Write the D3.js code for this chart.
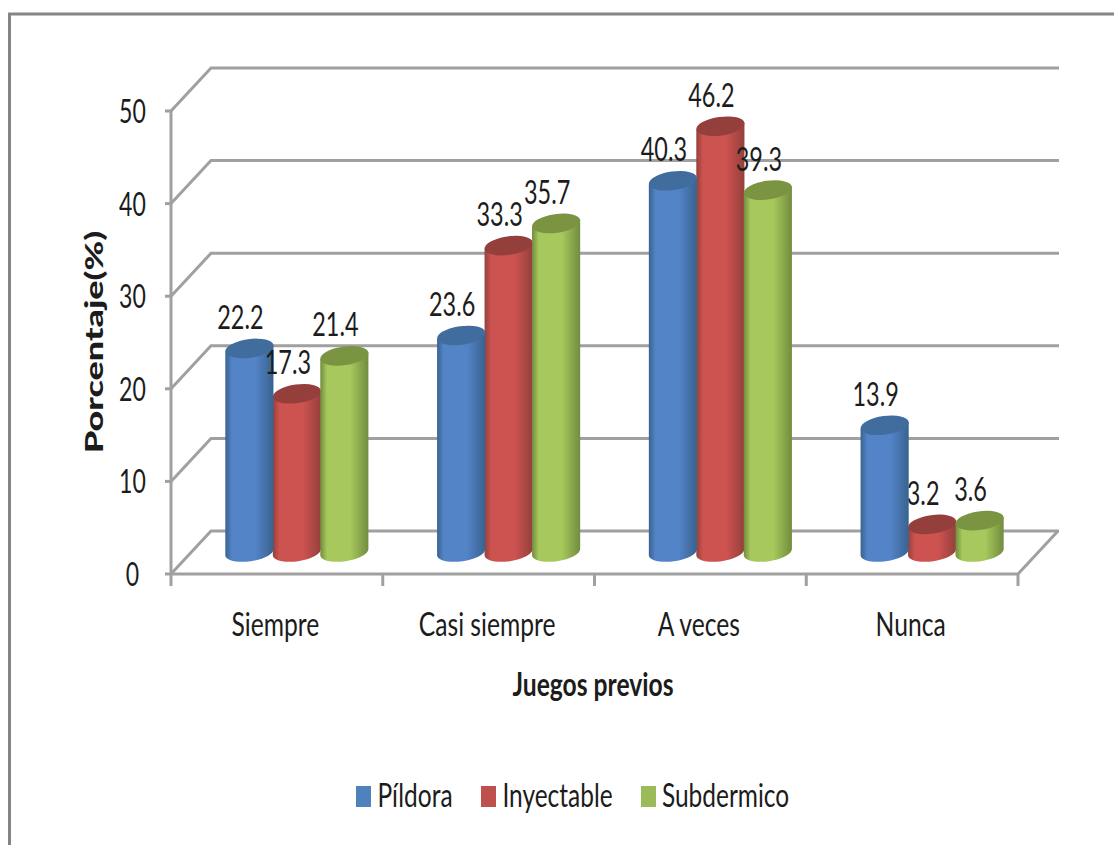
<!DOCTYPE html>
<html>
<head>
<meta charset="utf-8">
<script src="https://cdn.jsdelivr.net/npm/d3@7/dist/d3.min.js"></script>
<style>
  html, body { margin: 0; padding: 0; background: #fff; overflow: hidden; }
  svg { display: block; }
  text { font-family: Lato, "Open Sans", sans-serif; fill: #1c1c1c; }
</style>
</head>
<body>
<div id="chart"></div>
<script>
const categories = ["Siempre", "Casi siempre", "A veces", "Nunca"];
const seriesNames = ["Píldora", "Inyectable", "Subdermico"];
const pildora = [22.2, 23.6, 40.3, 13.9];
const inyectable = [17.3, 33.3, 46.2, 3.2];
const subdermico = [21.4, 35.7, 39.3, 3.6];
const yTicks = [0, 10, 20, 30, 40, 50];
const seriesValues = [pildora, inyectable, subdermico];

const width = 1114, height = 845;
const depthX = 40, depthY = -43;          // offset of the back wall from the front axes
const midX = 20, midY = -20;              // cylinders stand halfway into the floor
const baseLift = 2;                       // the cylinder feet rest slightly behind the mid plane
const ellipseRx = 24.3, ellipseRy = 9.3, ellipseTilt = -8;

const palette = [
  { edge: "#39628f", mid: "#5384c8", top: "#416d9e", key: "#4f81bd" },
  { edge: "#94403c", mid: "#cd5350", top: "#943f3c", key: "#c0504d" },
  { edge: "#728c3e", mid: "#a6c85c", top: "#7a9442", key: "#9bbb59" }
];

const svg = d3.select("#chart").append("svg").attr("width", width).attr("height", height);
const defs = svg.append("defs");

palette.forEach((c, i) => {
  const g = defs.append("linearGradient").attr("id", "cyl" + i).attr("x1", 0).attr("x2", 1).attr("y1", 0).attr("y2", 0);
  [[0, c.edge], [0.14, c.mid], [0.62, c.mid], [1, c.edge]].forEach(([o, col]) =>
    g.append("stop").attr("offset", o).attr("stop-color", col));
});

const x = d3.scaleBand().domain(categories).range([171, 1018]);
const xInner = d3.scaleBand().domain(seriesNames).range([0, x.bandwidth()]).paddingOuter(0.73).paddingInner(0);
const y = d3.scaleLinear().domain([0, 50]).range([574, 111]);

// Chart frame: only the top and left edges fall inside the window
svg.append("path").attr("d", `M9.5,845V14H1114`).attr("fill", "none").attr("stroke", "#858585").attr("stroke-width", 3);

const gridColor = "#a0a0a0";
const grid = svg.append("g").attr("fill", "none").attr("stroke", gridColor).attr("stroke-width", 3);

// Gridlines run up the left side wall and across the back wall
grid.selectAll("path.wall").data(yTicks).join("path").attr("class", "wall")
  .attr("d", t => `M${x.range()[0]},${y(t)}L${x.range()[0] + depthX},${y(t) + depthY}H${x.range()[1] + depthX + 1}`);

// Floor edges
grid.append("path").attr("d",
  `M${x.range()[0]},${y(0)}H${x.range()[1]}L${x.range()[1] + depthX},${y(0) + depthY}`);

// Value axis line and ticks
grid.append("path").attr("d", `M${x.range()[0]},${y(50)}V${y(0)}`);
grid.selectAll("path.ytick").data(yTicks).join("path").attr("class", "ytick")
  .attr("d", t => `M${x.range()[0] - 6},${y(t)}H${x.range()[0]}`);

// Category ticks sit on the band boundaries
const xBoundaries = categories.map(c => x(c)).concat(x.range()[1]);
grid.selectAll("path.xtick").data(xBoundaries).join("path").attr("class", "xtick")
  .attr("d", d => `M${d},${y(0)}v12`);

// Text helper: the chart's lettering is condensed, so each label carries its own horizontal scale
function label(parent, str, px, py, size, sx, weight) {
  return parent.append("text")
    .attr("transform", `translate(${px},${py}) scale(${sx},1)`)
    .attr("text-anchor", "middle")
    .attr("font-size", size)
    .attr("font-weight", weight || 400)
    .text(str);
}

const labels = svg.append("g");
yTicks.forEach(t => label(labels, String(t), 132.5, y(t) + 12, 33, 0.7));
categories.forEach(c => label(labels, c, x(c) + x.bandwidth() / 2 - 1.5, 636, 32, 0.77));
label(labels, "Juegos previos", 593, 696, 32, 0.77, 700);

// Vertical axis title, stretched along its length
labels.append("text")
  .attr("transform", "translate(103,342) rotate(-90) scale(1.5,1)")
  .attr("text-anchor", "middle").attr("font-size", 24).attr("font-weight", 900)
  .text("Porcentaje(%)");

// Cylinder outline: straight sides closed by the lower half of a tilted ellipse, built from two cubics
function cylinderPath(cx, topY, base) {
  const t = ellipseTilt * Math.PI / 180, k = 0.5523;
  const pt = (a, b) => {
    const px = cx + ellipseRx * a * Math.cos(t) - ellipseRy * b * Math.sin(t);
    const py = base + ellipseRx * a * Math.sin(t) + ellipseRy * b * Math.cos(t);
    return `${px.toFixed(2)},${py.toFixed(2)}`;
  };
  const rise = base - topY;
  const dx = ellipseRx * Math.cos(t), dy = ellipseRx * Math.sin(t);
  return `M${(cx - dx).toFixed(2)},${(base - dy - rise).toFixed(2)}` +
    `L${pt(-1, 0)}` +
    `C${pt(-1, k)} ${pt(-k, 1)} ${pt(0, 1)}` +
    `C${pt(k, 1)} ${pt(1, k)} ${pt(1, 0)}` +
    `L${(cx + dx).toFixed(2)},${(base + dy - rise).toFixed(2)}Z`;
}

const barCenter = (c, s) => x(c) + xInner(s) + xInner.bandwidth() / 2 + midX;
const barTop = v => y(v) + midY;
const valueLabel = (parent, c, s, v) => label(parent, v.toFixed(1), barCenter(c, s) - 9, barTop(v) - 19.5, 33, 0.71);

// Cylinders: the middle series is drawn first so its neighbours overlap it.
// The short "Nunca" Inyectable value sits behind the tall Píldora cylinder next to it.
const barOrder = [1, 0, 2];
const bars = svg.append("g");
categories.forEach((c, ci) => {
  barOrder.forEach(si => {
    const s = seriesNames[si];
    const v = seriesValues[si][ci];
    const cx = barCenter(c, s);
    const base = y(0) + midY - baseLift;
    const topY = barTop(v);
    const g = bars.append("g");
    g.append("path").attr("fill", `url(#cyl${si})`).attr("d", cylinderPath(cx, topY, base));
    g.append("ellipse")
      .attr("cx", cx).attr("cy", topY).attr("rx", ellipseRx).attr("ry", ellipseRy)
      .attr("transform", `rotate(${ellipseTilt},${cx},${topY})`)
      .attr("fill", palette[si].top);
    if (c === "Nunca" && s === "Inyectable") valueLabel(g, c, s, v);
  });
});

// Data labels
const values = svg.append("g");
categories.forEach((c, ci) => {
  seriesNames.forEach((s, si) => {
    if (c === "Nunca" && s === "Inyectable") return;
    valueLabel(values, c, s, seriesValues[si][ci]);
  });
});

// Legend
const legendX = [356, 481, 641];
const legendTextX = [415, 557.5, 725.5];
const legend = svg.append("g");
seriesNames.forEach((s, i) => {
  legend.append("rect").attr("x", legendX[i]).attr("y", 786).attr("width", 15).attr("height", 21).attr("fill", palette[i].key);
  label(legend, s, legendTextX[i], 807, 32, 0.765);
});
</script>
</body>
</html>
